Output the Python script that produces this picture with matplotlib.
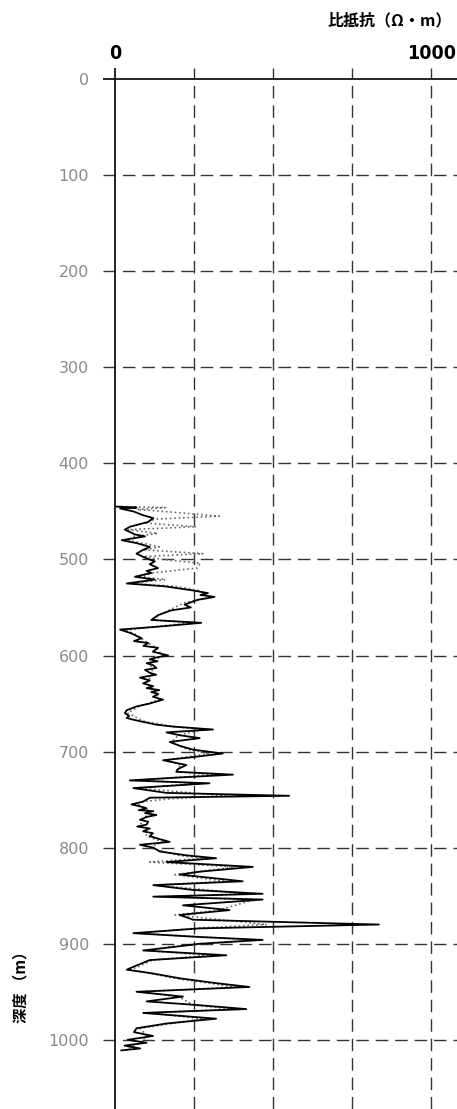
import matplotlib
matplotlib.use("Agg")
import matplotlib.pyplot as plt
import matplotlib.transforms as mtransforms

# Resistivity log (ohm-m) vs depth (m)
solid_depth = [445, 446, 447, 450, 454, 457, 461, 466, 469, 474, 476, 480, 483, 487, 490, 494, 499,
               502, 505, 509, 512, 514, 518, 521, 525, 528, 532, 535, 537, 539, 542, 547, 550, 553,
               558, 563, 566, 570, 573, 577, 580, 582, 585, 587, 590, 592, 596, 600, 602, 604, 606,
               608, 610, 613, 615, 618, 620, 623, 626, 629, 632, 634, 636, 638, 640, 643, 646, 648,
               650, 653, 657, 660, 663, 665, 667, 669, 672, 674, 677, 680, 683, 686, 690, 694, 698,
               702, 706, 709, 714, 718, 721, 724, 727, 730, 733, 738, 743, 746, 748, 752, 755, 757,
               759, 761, 762, 764, 766, 768, 771, 773, 776, 778, 780, 783, 785, 788, 791, 794, 797,
               800, 804, 808, 811, 815, 820, 825, 828, 835, 839, 844, 848, 851, 854, 860, 865, 870,
               875, 880, 884, 889, 893, 896, 900, 903, 907, 912, 917, 924, 927, 931, 936, 941, 945,
               950, 955, 960, 964, 968, 972, 978, 983, 988, 992, 996, 1000, 1003, 1006, 1009, 1011]
solid_value = [5, 68, 16, 58, 89, 121, 105, 47, 31, 63, 95, 21, 68, 110, 89, 68, 100,
               126, 110, 136, 100, 115, 63, 126, 37, 157, 241, 294, 270, 315, 262, 220, 240, 178,
               136, 115, 273, 136, 16, 52, 70, 84, 60, 105, 90, 136, 120, 168, 130, 110, 135,
               100, 120, 131, 95, 110, 130, 79, 110, 89, 121, 100, 140, 115, 137, 120, 152, 130,
               110, 68, 37, 31, 45, 37, 60, 89, 131, 184, 310, 163, 205, 268, 173, 205, 247,
               341, 240, 152, 226, 200, 194, 373, 200, 47, 299, 58, 163, 551, 110, 89, 52, 80,
               100, 75, 121, 95, 131, 100, 79, 105, 100, 70, 110, 89, 120, 110, 140, 173, 79,
               121, 142, 226, 320, 163, 436, 268, 205, 404, 121, 247, 467, 121, 467, 215, 362, 205,
               247, 835, 268, 58, 268, 467, 268, 194, 89, 352, 110, 58, 37, 121, 205, 320, 425,
               68, 215, 100, 268, 415, 89, 320, 163, 68, 60, 120, 40, 100, 30, 80, 20]

dotted_depth = [445, 446, 448, 451, 455, 458, 462, 466, 469, 473, 476, 480, 484, 487, 490, 494, 497,
                500, 504, 509, 514, 518, 521, 525, 528, 532, 536, 540, 545, 553, 558, 563, 566, 570,
                574, 577, 585, 592, 600, 608, 618, 629, 640, 646, 653, 660, 669, 674, 677, 683, 690,
                698, 702, 709, 714, 721, 724, 730, 733, 738, 746, 749, 752, 756, 762, 771, 776, 783,
                788, 794, 800, 808, 811, 815, 820, 828, 835, 839, 848, 851, 854, 865, 870, 880, 884,
                889, 896, 903, 907, 912, 917, 927, 936, 945, 950, 955, 964, 968, 972, 978, 988, 996,
                1003, 1011]
dotted_value = [20, 160, 70, 190, 330, 130, 90, 257, 40, 135, 60, 40, 100, 140, 90, 278, 90,
                150, 270, 260, 120, 80, 160, 50, 190, 260, 290, 300, 220, 170, 140, 120, 250, 120,
                30, 60, 95, 130, 150, 110, 120, 100, 130, 140, 75, 40, 95, 190, 280, 200, 180,
                230, 300, 160, 210, 190, 320, 60, 270, 70, 350, 180, 90, 70, 110, 90, 80, 95,
                100, 150, 110, 200, 280, 110, 380, 190, 350, 130, 420, 140, 440, 330, 190, 480, 250,
                70, 440, 180, 100, 300, 120, 50, 190, 380, 80, 200, 250, 380, 100, 280, 80, 100,
                80, 30]

depth_ticks = list(range(0, 1001, 100))
grid_x = [250, 500, 750, 1000]

fig = plt.figure(figsize=(4.57, 11.09), dpi=100)
ax = fig.add_axes([103 / 457, 0, 1 - 103 / 457, 1 - 67.5 / 1109])

x_min, x_max = -38, 1082
y_top, y_bottom = -12, 1072
ax.set_xlim(x_min, x_max)
ax.set_ylim(y_bottom, y_top)

# dashed grid, solid axes at 0
dash = (0, (9, 5))
for d in depth_ticks[1:]:
    ax.axhline(d, color="#333333", lw=1.0, linestyle=dash, zorder=1)
for gx in grid_x:
    ax.axvline(gx, color="#333333", lw=1.0, linestyle=dash, zorder=1)
ax.axhline(0, color="black", lw=1.2, zorder=2)
ax.axvline(0, color="black", lw=1.2, zorder=2)

# log curves
ax.plot(dotted_value, dotted_depth, color="#6a6a6a", lw=1.2, linestyle=":", zorder=3)
ax.plot(solid_value, solid_depth, color="black", lw=1.3, zorder=4)

for s in ax.spines.values():
    s.set_visible(False)
ax.set_xticks([])
ax.set_yticks(depth_ticks)
ax.set_yticklabels([str(d) for d in depth_ticks])
ax.tick_params(axis="y", length=0, pad=10, labelsize=11.5, labelcolor="#8a8a8a")
for lab in ax.get_yticklabels():
    lab.set_fontfamily("DejaVu Sans")

# scale labels on top
trans = mtransforms.blended_transform_factory(ax.transData, ax.transAxes)
for xv, txt in [(0, "0"), (1000, "1000")]:
    ax.text(xv, 1.004, txt, transform=trans, ha="center", va="bottom",
            fontsize=14, fontweight="bold", fontstretch="condensed", family="DejaVu Sans")

fig.text(452 / 457, 1 - 20 / 1109, "比抵抗（Ω・m）", ha="right", va="center",
         fontsize=11.5, fontweight="bold", family=["Noto Sans CJK JP", "DejaVu Sans"])
fig.text(20 / 457, 1 - 983 / 1109, "深度 （m）", ha="center", va="center", rotation=90,
         fontsize=11, fontweight="bold", family=["Noto Sans CJK JP", "DejaVu Sans"])

fig.savefig("out.png", dpi=100)
